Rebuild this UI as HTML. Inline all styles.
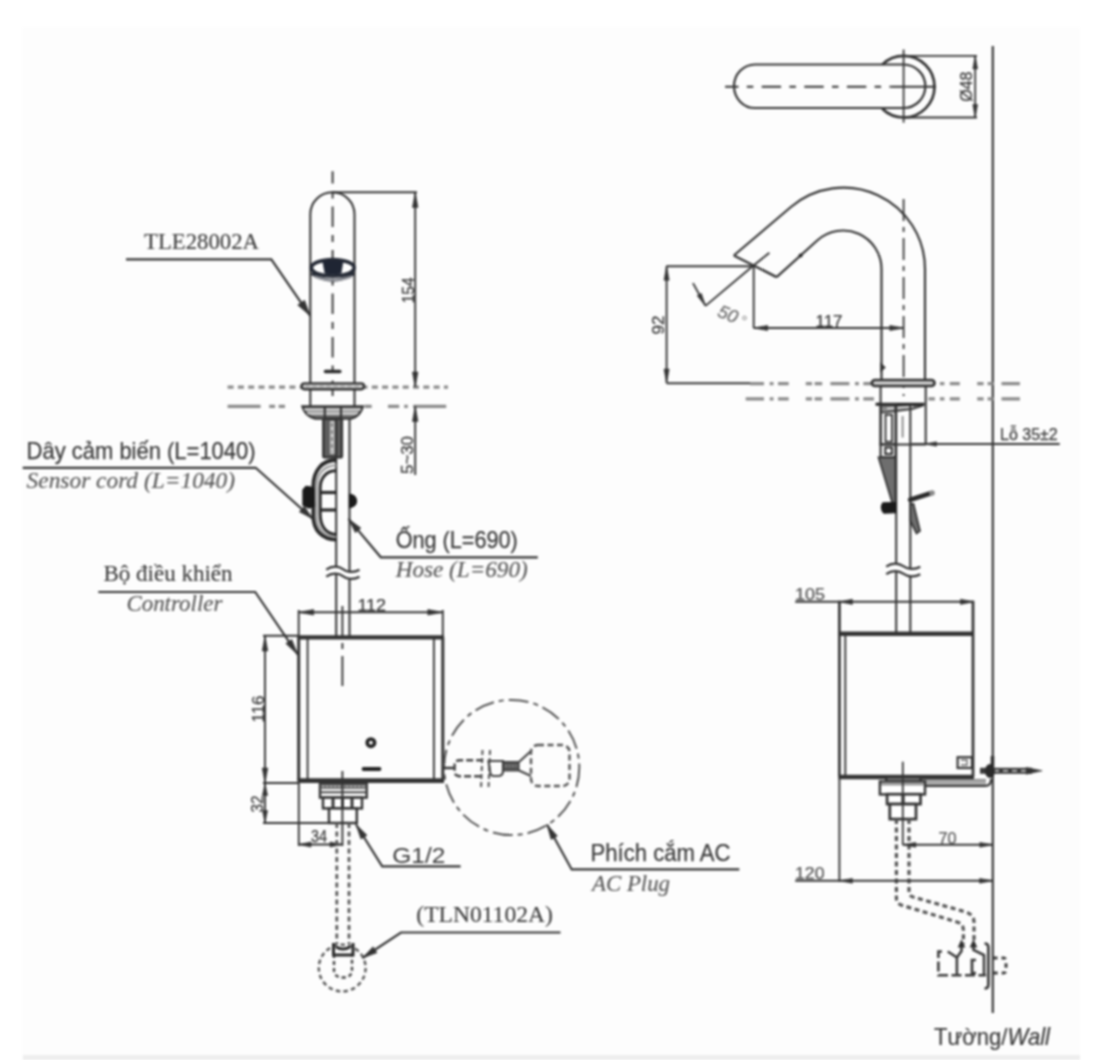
<!DOCTYPE html>
<html><head><meta charset="utf-8"><style>
html,body{margin:0;padding:0;background:#fff;}
body{width:1107px;height:1060px;overflow:hidden;font-family:"Liberation Sans",sans-serif;}
svg{display:block;filter:blur(1px);}
</style></head><body>
<svg width="1107" height="1060" viewBox="0 0 1107 1060">
<rect x="22" y="27" width="1058" height="1033" fill="#fdfdfd"/>
<rect x="23" y="1055" width="1057" height="5" fill="#eeeeee"/>
<line x1="227.6" y1="387.2" x2="448" y2="387.2" stroke="#8a8a8a" stroke-width="3.24" stroke-dasharray="6 4.3" stroke-linecap="butt"/>
<path d="M227.6,406.3 H260.6 M269.2,406.3 H275.1 M278.7,406.3 H285 M364.5,406.3 H371.7 M388,406.3 H399.2 M404.2,406.3 H407.8 M413.2,406.3 H446.2" fill="none" stroke="#8a8a8a" stroke-width="3.24" />
<path d="M310.3,383.5 V214.3 A22.1,22.1 0 0 1 354.5,214.3 V383.5" fill="none" stroke="#333333" stroke-width="2.03" />
<line x1="332.6" y1="171.3" x2="332.6" y2="396" stroke="#333333" stroke-width="1.89" stroke-dasharray="20.5 8 7 8" stroke-dashoffset="8.4" stroke-linecap="butt"/>
<path d="M311.5,273.5 Q333,287 354,273.5" fill="none" stroke="#262b36" stroke-width="2.97" />
<path d="M314,276.5 Q333,284 352,276.5" fill="none" stroke="#9a9ca2" stroke-width="2.16" />
<ellipse cx="332.8" cy="267.8" rx="21.4" ry="8.2" fill="#fff" stroke="#262b36" stroke-width="3.6"/>
<path d="M322.8,261.5 Q333,259.5 343,261.5 L341,273.6 Q333,275 325,273.6 Z" fill="#1f2533" stroke="#1f2533" stroke-width="0.68" />
<line x1="325.5" y1="371.4" x2="339.8" y2="371.4" stroke="#2a2a2a" stroke-width="3.51" stroke-linecap="round"/>
<rect x="301.6" y="383.4" width="62.4" height="5.8" rx="2.9" fill="#d2d2d2" stroke="#333333" stroke-width="2.43"/>
<line x1="305" y1="386.3" x2="361" y2="386.3" stroke="#888" stroke-width="1.08" stroke-dasharray="5 2" stroke-linecap="butt"/>
<line x1="310.3" y1="389.7" x2="310.3" y2="406" stroke="#333333" stroke-width="2.03" stroke-linecap="butt"/>
<line x1="354.5" y1="389.7" x2="354.5" y2="406" stroke="#333333" stroke-width="2.03" stroke-linecap="butt"/>
<path d="M302.5,406.5 L362.7,406.5 Q360.5,416 351.2,418.6 L315.3,418.6 Q305,416 302.5,406.5 Z" fill="#9a9a9a" stroke="#333333" stroke-width="2.43" />
<line x1="304" y1="409.5" x2="361" y2="409.5" stroke="#e0e0e0" stroke-width="1.35" stroke-linecap="butt"/>
<line x1="307" y1="413.5" x2="358" y2="413.5" stroke="#e0e0e0" stroke-width="1.35" stroke-linecap="butt"/>
<line x1="310" y1="416.3" x2="355" y2="416.3" stroke="#444" stroke-width="1.08" stroke-linecap="butt"/>
<line x1="324.8" y1="407" x2="324.8" y2="418.6" stroke="#333333" stroke-width="2.16" stroke-linecap="butt"/>
<line x1="341" y1="407" x2="341" y2="418.6" stroke="#333333" stroke-width="2.16" stroke-linecap="butt"/>
<rect x="323.3" y="418.8" width="18.6" height="38.6" rx="1.5" fill="#5e5e5e" stroke="#333333" stroke-width="2.43"/>
<rect x="330" y="421" width="4.5" height="33" rx="0" fill="#c8c8c8" stroke="#333333" stroke-width="0"/>
<line x1="332" y1="423" x2="332" y2="452" stroke="#444" stroke-width="1.08" stroke-dasharray="4 3" stroke-linecap="butt"/>
<line x1="336.2" y1="418.8" x2="336.2" y2="567" stroke="#333333" stroke-width="2.03" stroke-linecap="butt"/>
<line x1="349.5" y1="418.8" x2="349.5" y2="572.3" stroke="#333333" stroke-width="2.03" stroke-linecap="butt"/>
<line x1="336.2" y1="574" x2="336.2" y2="637" stroke="#333333" stroke-width="2.03" stroke-linecap="butt"/>
<line x1="349.5" y1="579.3" x2="349.5" y2="637" stroke="#333333" stroke-width="2.03" stroke-linecap="butt"/>
<path d="M326.2,569.7 C332.2,565.2 339.2,566.2 342.85,569.2 S353.5,573.2 359.5,569.7" fill="none" stroke="#333333" stroke-width="2.16" />
<path d="M326.2,576.7 C332.2,572.2 339.2,573.2 342.85,576.2 S353.5,580.2 359.5,576.7" fill="none" stroke="#333333" stroke-width="2.16" />
<path d="M336.2,460 C322,460 313.3,471 313.3,486 L313.3,516 C313.3,530 322,539.6 336.2,539.6" fill="none" stroke="#2a2a2a" stroke-width="3.78" />
<path d="M336.2,470.8 C326,470.8 320.2,478 320.2,488 L320.2,514 C320.2,526 326,534.4 336.2,534.4" fill="none" stroke="#2a2a2a" stroke-width="2.97" />
<path d="M336.2,465.4 C324,465.4 316.7,474 316.7,487 L316.7,515 C316.7,528 324,537 336.2,537" fill="none" stroke="#9a9a9a" stroke-width="2.16" />
<line x1="320" y1="492.5" x2="336" y2="492.5" stroke="#2a2a2a" stroke-width="3.24" stroke-linecap="butt"/>
<line x1="320" y1="510" x2="336" y2="510" stroke="#2a2a2a" stroke-width="3.24" stroke-linecap="butt"/>
<path d="M303,490 L306,486.5 L310,487 L314,489 L314.5,506 L309,508 L303,505 Z" fill="#1a1a1a" stroke="#1a1a1a" stroke-width="1.35" />
<path d="M349.5,494.3 A7,6.6 0 0 1 349.5,507.5 Z" fill="#1a1a1a" stroke="#1a1a1a" stroke-width="1.35" />
<path d="M22.7,467.8 H255.7 L313,519" fill="none" stroke="#333333" stroke-width="2.16" />
<polygon points="313,519 299.28,511.84 304.35,506.17" fill="#333333" stroke="#333333" stroke-width="0.6"/>
<path d="M537.8,557.3 H380.8 L348.5,518.9" fill="none" stroke="#333333" stroke-width="2.16" />
<polygon points="348.5,518.9 360.91,528.06 355.4,532.7" fill="#333333" stroke="#333333" stroke-width="0.6"/>
<path d="M126,259.3 H271.3 L310.2,315.8" fill="none" stroke="#333333" stroke-width="2.16" />
<polygon points="310.2,315.8 297.67,305 304.59,300.24" fill="#333333" stroke="#333333" stroke-width="0.6"/>
<line x1="332.6" y1="192.2" x2="417" y2="192.2" stroke="#333333" stroke-width="1.89" stroke-linecap="butt"/>
<line x1="415.2" y1="192" x2="415.2" y2="387" stroke="#333333" stroke-width="1.89" stroke-linecap="butt"/>
<polygon points="415.2,192.5 418,207.5 412.4,207.5" fill="#333333" stroke="#333333" stroke-width="0.6"/>
<polygon points="415.2,387 412.4,372 418,372" fill="#333333" stroke="#333333" stroke-width="0.6"/>
<text x="414.2" y="290.3" font-family="Liberation Sans" font-size="16" font-style="normal" font-weight="normal" fill="#3a3a3a" stroke="#3a3a3a" stroke-width="0.25" text-anchor="middle" transform="rotate(-90 414.2 290.3)" textLength="26" lengthAdjust="spacingAndGlyphs">154</text>
<line x1="415.2" y1="406.3" x2="415.2" y2="475" stroke="#333333" stroke-width="1.89" stroke-linecap="butt"/>
<polygon points="415.2,406.5 418,421.5 412.4,421.5" fill="#333333" stroke="#333333" stroke-width="0.6"/>
<text x="412.5" y="455" font-family="Liberation Sans" font-size="16" font-style="normal" font-weight="normal" fill="#3a3a3a" stroke="#3a3a3a" stroke-width="0.25" text-anchor="middle" transform="rotate(-90 412.5 455)" textLength="38" lengthAdjust="spacingAndGlyphs">5~30</text>
<text x="144" y="249.4" font-family="Liberation Serif" font-size="22.7" font-style="normal" font-weight="normal" fill="#3a3a3a" stroke="#3a3a3a" stroke-width="0.12" text-anchor="start" textLength="115" lengthAdjust="spacingAndGlyphs">TLE28002A</text>
<text x="26.6" y="458.5" font-family="Liberation Sans" font-size="23.6" font-style="normal" font-weight="normal" fill="#3a3a3a" stroke="#3a3a3a" stroke-width="0.25" text-anchor="start" textLength="229" lengthAdjust="spacingAndGlyphs">Dây cảm biến (L=1040)</text>
<text x="26.6" y="488" font-family="Liberation Serif" font-size="23.4" font-style="italic" font-weight="normal" fill="#555555" stroke="#555555" stroke-width="0.12" text-anchor="start" textLength="208.4" lengthAdjust="spacingAndGlyphs">Sensor cord (L=1040)</text>
<text x="395.7" y="548.3" font-family="Liberation Sans" font-size="23.4" font-style="normal" font-weight="normal" fill="#3a3a3a" stroke="#3a3a3a" stroke-width="0.25" text-anchor="start" textLength="122" lengthAdjust="spacingAndGlyphs">Ống (L=690)</text>
<text x="395.7" y="576.6" font-family="Liberation Serif" font-size="23.2" font-style="italic" font-weight="normal" fill="#555555" stroke="#555555" stroke-width="0.12" text-anchor="start" textLength="132" lengthAdjust="spacingAndGlyphs">Hose (L=690)</text>
<text x="103.5" y="581" font-family="Liberation Serif" font-size="22.8" font-style="normal" font-weight="normal" fill="#3a3a3a" stroke="#3a3a3a" stroke-width="0.12" text-anchor="start" textLength="129" lengthAdjust="spacingAndGlyphs">Bộ điều khiển</text>
<text x="126.4" y="610.7" font-family="Liberation Serif" font-size="22.8" font-style="italic" font-weight="normal" fill="#555555" stroke="#555555" stroke-width="0.12" text-anchor="start" textLength="96" lengthAdjust="spacingAndGlyphs">Controller</text>
<path d="M98.3,592 H255.2 L297.8,654.7" fill="none" stroke="#333333" stroke-width="2.16" />
<polygon points="297.8,654.7 285.83,643.49 291.79,639.44" fill="#333333" stroke="#333333" stroke-width="0.6"/>
<line x1="298.7" y1="610" x2="298.7" y2="637" stroke="#333333" stroke-width="1.89" stroke-linecap="butt"/>
<line x1="442.8" y1="610" x2="442.8" y2="637" stroke="#333333" stroke-width="1.89" stroke-linecap="butt"/>
<line x1="298.7" y1="612.3" x2="442.8" y2="612.3" stroke="#333333" stroke-width="1.89" stroke-linecap="butt"/>
<polygon points="298.7,612.3 313.7,609.5 313.7,615.1" fill="#333333" stroke="#333333" stroke-width="0.6"/>
<polygon points="442.8,612.3 427.8,615.1 427.8,609.5" fill="#333333" stroke="#333333" stroke-width="0.6"/>
<text x="371.7" y="610.8" font-family="Liberation Sans" font-size="17" font-style="normal" font-weight="normal" fill="#3a3a3a" stroke="#3a3a3a" stroke-width="0.25" text-anchor="middle" textLength="28.5" lengthAdjust="spacingAndGlyphs">112</text>
<line x1="298.7" y1="637" x2="298.7" y2="781" stroke="#333333" stroke-width="2.97" stroke-linecap="butt"/>
<line x1="307.6" y1="637" x2="307.6" y2="781" stroke="#333333" stroke-width="1.89" stroke-linecap="butt"/>
<line x1="442.8" y1="637" x2="442.8" y2="781" stroke="#333333" stroke-width="2.97" stroke-linecap="butt"/>
<line x1="433.9" y1="637" x2="433.9" y2="781" stroke="#333333" stroke-width="1.89" stroke-linecap="butt"/>
<line x1="297.6" y1="637.3" x2="444" y2="637.3" stroke="#333333" stroke-width="4.32" stroke-linecap="butt"/>
<line x1="297.6" y1="780.6" x2="444" y2="780.6" stroke="#333333" stroke-width="4.59" stroke-linecap="butt"/>
<line x1="342.4" y1="606" x2="342.4" y2="690" stroke="#333333" stroke-width="1.89" stroke-dasharray="30 7 6 7" stroke-linecap="butt"/>
<circle cx="370.9" cy="742.7" r="3.7" fill="#fff" stroke="#222" stroke-width="3.6"/>
<line x1="363.5" y1="769" x2="379.5" y2="769" stroke="#222" stroke-width="3.78" stroke-linecap="round"/>
<line x1="263" y1="635.8" x2="298.7" y2="635.8" stroke="#333333" stroke-width="1.89" stroke-linecap="butt"/>
<line x1="263" y1="783" x2="299" y2="783" stroke="#333333" stroke-width="1.89" stroke-linecap="butt"/>
<line x1="265" y1="635.8" x2="265" y2="783" stroke="#333333" stroke-width="1.89" stroke-linecap="butt"/>
<polygon points="265,636 267.8,651 262.2,651" fill="#333333" stroke="#333333" stroke-width="0.6"/>
<polygon points="265,783 262.2,768 267.8,768" fill="#333333" stroke="#333333" stroke-width="0.6"/>
<text x="263.5" y="709" font-family="Liberation Sans" font-size="17" font-style="normal" font-weight="normal" fill="#3a3a3a" stroke="#3a3a3a" stroke-width="0.25" text-anchor="middle" transform="rotate(-90 263.5 709)" textLength="27" lengthAdjust="spacingAndGlyphs">116</text>
<line x1="265" y1="783" x2="265" y2="823" stroke="#333333" stroke-width="1.89" stroke-linecap="butt"/>
<line x1="263" y1="823" x2="342" y2="823" stroke="#333333" stroke-width="1.89" stroke-linecap="butt"/>
<polygon points="265,783.5 267.6,795.5 262.4,795.5" fill="#333333" stroke="#333333" stroke-width="0.6"/>
<polygon points="265,822.5 262.4,810.5 267.6,810.5" fill="#333333" stroke="#333333" stroke-width="0.6"/>
<text x="262.5" y="804" font-family="Liberation Sans" font-size="17" font-style="normal" font-weight="normal" fill="#3a3a3a" stroke="#3a3a3a" stroke-width="0.25" text-anchor="middle" transform="rotate(-90 262.5 804)" textLength="17" lengthAdjust="spacingAndGlyphs">32</text>
<rect x="320" y="783" width="46.7" height="14.6" rx="0" fill="#fff" stroke="#333333" stroke-width="2.43"/>
<rect x="320.5" y="784" width="45.7" height="5" rx="0" fill="#6a6a6a" stroke="#333333" stroke-width="0"/>
<line x1="322" y1="786.5" x2="365" y2="786.5" stroke="#ddd" stroke-width="1.22" stroke-dasharray="2.5 1.5" stroke-linecap="butt"/>
<line x1="320" y1="792.3" x2="366.7" y2="792.3" stroke="#444" stroke-width="1.89" stroke-linecap="butt"/>
<rect x="323" y="797.6" width="39" height="10.8" rx="0" fill="#fff" stroke="#333333" stroke-width="2.43"/>
<line x1="333" y1="797.6" x2="333" y2="808.4" stroke="#333" stroke-width="2.97" stroke-linecap="butt"/>
<line x1="342.5" y1="797.6" x2="342.5" y2="808.4" stroke="#333" stroke-width="2.97" stroke-linecap="butt"/>
<line x1="352" y1="797.6" x2="352" y2="808.4" stroke="#333" stroke-width="2.97" stroke-linecap="butt"/>
<rect x="329" y="808.4" width="27.8" height="14.6" rx="0" fill="#fff" stroke="#333333" stroke-width="2.43"/>
<line x1="342.4" y1="771" x2="342.4" y2="846" stroke="#333333" stroke-width="1.89" stroke-linecap="butt"/>
<line x1="298.8" y1="783" x2="298.8" y2="846" stroke="#333333" stroke-width="1.89" stroke-linecap="butt"/>
<line x1="298.8" y1="844.5" x2="342.2" y2="844.5" stroke="#333333" stroke-width="1.89" stroke-linecap="butt"/>
<polygon points="299,844.5 311,841.9 311,847.1" fill="#333333" stroke="#333333" stroke-width="0.6"/>
<polygon points="342,844.5 330,847.1 330,841.9" fill="#333333" stroke="#333333" stroke-width="0.6"/>
<text x="319" y="841.6" font-family="Liberation Sans" font-size="17" font-style="normal" font-weight="normal" fill="#3a3a3a" stroke="#3a3a3a" stroke-width="0.25" text-anchor="middle" textLength="16" lengthAdjust="spacingAndGlyphs">34</text>
<line x1="336.8" y1="823" x2="336.8" y2="944" stroke="#555" stroke-width="2.7" stroke-dasharray="5 3.5" stroke-linecap="butt"/>
<line x1="349" y1="823" x2="349" y2="944" stroke="#555" stroke-width="2.7" stroke-dasharray="5 3.5" stroke-linecap="butt"/>
<circle cx="342.2" cy="968" r="23.4" fill="none" stroke="#555" stroke-width="2.4" stroke-dasharray="4.5 3.2"/>
<path d="M334,954 V970 Q334,977.5 343,977.5 Q352,977.5 352,970 V954" fill="none" stroke="#444" stroke-width="2.43" stroke-dasharray="4 3" />
<path d="M333.5,943 V955 H353 V943 M336,947 Q343,951 350,947" fill="none" stroke="#2a2a2a" stroke-width="2.97" />
<path d="M356,824.5 L382.2,866.3 H460.6" fill="none" stroke="#333333" stroke-width="2.16" />
<polygon points="356,824.5 367.02,835.3 360.92,839.12" fill="#333333" stroke="#333333" stroke-width="0.6"/>
<text x="392.3" y="862.5" font-family="Liberation Sans" font-size="22.5" font-style="normal" font-weight="normal" fill="#3a3a3a" text-anchor="start" textLength="53" lengthAdjust="spacingAndGlyphs">G1/2</text>
<path d="M560.5,932.5 H401 L362.5,958" fill="none" stroke="#333333" stroke-width="2.16" />
<polygon points="362.5,958 373.02,946.72 376.99,952.72" fill="#333333" stroke="#333333" stroke-width="0.6"/>
<text x="416.3" y="922.4" font-family="Liberation Serif" font-size="23.4" font-style="normal" font-weight="normal" fill="#3a3a3a" stroke="#3a3a3a" stroke-width="0.12" text-anchor="start" textLength="136.5" lengthAdjust="spacingAndGlyphs">(TLN01102A)</text>
<circle cx="511.7" cy="767.5" r="67.6" fill="none" stroke="#555" stroke-width="2" stroke-dasharray="20 5 5 5"/>
<line x1="442.8" y1="768" x2="455" y2="768" stroke="#333" stroke-width="2.43" stroke-linecap="butt"/>
<path d="M483.2,760.2 H460 Q454.6,760.2 454.6,765 V772 Q454.6,776.2 460,776.2 H483.2" fill="none" stroke="#444" stroke-width="2.43" stroke-dasharray="7 3" />
<line x1="482.5" y1="750" x2="481" y2="789" stroke="#555" stroke-width="2.03" stroke-dasharray="5 3" stroke-linecap="butt"/>
<line x1="490" y1="750" x2="488.5" y2="789" stroke="#555" stroke-width="2.03" stroke-dasharray="5 3" stroke-linecap="butt"/>
<path d="M488.5,761 H503 V771 Q503,776 498,776 H494 Q490,776 490,771 Z" fill="none" stroke="#444" stroke-width="2.16" />
<rect x="503" y="761.6" width="16" height="9.3" rx="0" fill="#555" stroke="#333333" stroke-width="1.08"/>
<line x1="505" y1="766" x2="517" y2="766" stroke="#bbb" stroke-width="1.08" stroke-dasharray="2 1.5" stroke-linecap="butt"/>
<path d="M519,762 L531,751 M519,770.5 L531,776" fill="none" stroke="#444" stroke-width="2.16" />
<rect x="531" y="745" width="38.5" height="41" rx="7" fill="none" stroke="#555" stroke-width="2.43" stroke-dasharray="6 3.5"/>
<path d="M547,824.6 L571.7,869.4 H739.3" fill="none" stroke="#333333" stroke-width="2.16" />
<polygon points="547,824.6 557.39,836 551.09,839.47" fill="#333333" stroke="#333333" stroke-width="0.6"/>
<text x="590.5" y="861.3" font-family="Liberation Sans" font-size="24.2" font-style="normal" font-weight="normal" fill="#3a3a3a" stroke="#3a3a3a" stroke-width="0.25" text-anchor="start" textLength="140" lengthAdjust="spacingAndGlyphs">Phích cắm AC</text>
<text x="592" y="891" font-family="Liberation Serif" font-size="22.8" font-style="italic" font-weight="normal" fill="#555555" stroke="#555555" stroke-width="0.12" text-anchor="start" textLength="78" lengthAdjust="spacingAndGlyphs">AC Plug</text>
<line x1="992.8" y1="46" x2="992.8" y2="1013" stroke="#333333" stroke-width="2.16" stroke-linecap="butt"/>
<path d="M903.6,64.5 H755 A21,21.75 0 0 0 734,86.25 A21,21.75 0 0 0 755,108 H903.6 A21.75,21.75 0 0 0 903.6,64.5" fill="none" stroke="#333333" stroke-width="2.16" />
<path d="M882.25,64.6 A30.8,30.8 0 1 1 882.25,108.8" fill="none" stroke="#333333" stroke-width="2.7" />
<line x1="725.1" y1="86.7" x2="891.7" y2="86.7" stroke="#333333" stroke-width="1.89" stroke-dasharray="19.4 8.3 6.5 8.4" stroke-dashoffset="6.0" stroke-linecap="butt"/>
<line x1="891.7" y1="86.7" x2="936" y2="86.7" stroke="#333333" stroke-width="1.89" stroke-linecap="butt"/>
<line x1="903.6" y1="49.5" x2="903.6" y2="122.7" stroke="#333333" stroke-width="1.76" stroke-linecap="butt"/>
<line x1="903.6" y1="55.9" x2="977" y2="55.9" stroke="#333333" stroke-width="1.76" stroke-linecap="butt"/>
<line x1="903.6" y1="117.5" x2="977" y2="117.5" stroke="#333333" stroke-width="1.76" stroke-linecap="butt"/>
<line x1="975.2" y1="55.9" x2="975.2" y2="117.5" stroke="#333333" stroke-width="1.76" stroke-linecap="butt"/>
<polygon points="975.2,55.9 977.6,68.9 972.8,68.9" fill="#333333" stroke="#333333" stroke-width="0.6"/>
<polygon points="975.2,117.5 972.8,104.5 977.6,104.5" fill="#333333" stroke="#333333" stroke-width="0.6"/>
<text x="972" y="86.7" font-family="Liberation Sans" font-size="16" font-style="normal" font-weight="normal" fill="#3a3a3a" stroke="#3a3a3a" stroke-width="0.25" text-anchor="middle" transform="rotate(-90 972 86.7)">Ø48</text>
<path d="M733.8,255.5 L790.9,207 A81.4,81.4 0 0 1 925,269.1 V380" fill="none" stroke="#333333" stroke-width="2.16" />
<path d="M776.6,277.1 L817.2,240.5 A38.47,38.47 0 0 1 881.5,269 V380" fill="none" stroke="#333333" stroke-width="2.16" />
<line x1="733.8" y1="255.5" x2="776.6" y2="277.1" stroke="#333333" stroke-width="2.43" stroke-linecap="butt"/>
<line x1="753.5" y1="265.5" x2="769.4" y2="252.8" stroke="#333333" stroke-width="1.89" stroke-linecap="butt"/>
<circle cx="800.6" cy="255.6" r="2" fill="#222"/>
<line x1="903.6" y1="199" x2="903.6" y2="396" stroke="#333333" stroke-width="1.76" stroke-dasharray="22 6 5 6" stroke-linecap="butt"/>
<line x1="666.3" y1="266.2" x2="753.5" y2="266.2" stroke="#333333" stroke-width="1.89" stroke-linecap="butt"/>
<line x1="666.6" y1="266.2" x2="666.6" y2="383.1" stroke="#333333" stroke-width="1.89" stroke-linecap="butt"/>
<polygon points="666.6,266.2 669.2,280.2 664,280.2" fill="#333333" stroke="#333333" stroke-width="0.6"/>
<polygon points="666.6,383.1 664,369.1 669.2,369.1" fill="#333333" stroke="#333333" stroke-width="0.6"/>
<line x1="666.6" y1="383.3" x2="752" y2="383.3" stroke="#333333" stroke-width="1.89" stroke-linecap="butt"/>
<text x="664" y="325" font-family="Liberation Sans" font-size="17" font-style="normal" font-weight="normal" fill="#3a3a3a" stroke="#3a3a3a" stroke-width="0.25" text-anchor="middle" transform="rotate(-90 664 325)">92</text>
<line x1="753.7" y1="266" x2="753.7" y2="328.1" stroke="#333333" stroke-width="1.89" stroke-linecap="butt"/>
<line x1="753.7" y1="328" x2="903.8" y2="328" stroke="#333333" stroke-width="1.89" stroke-linecap="butt"/>
<polygon points="753.7,328 767.7,325.4 767.7,330.6" fill="#333333" stroke="#333333" stroke-width="0.6"/>
<polygon points="903.8,328 889.8,330.6 889.8,325.4" fill="#333333" stroke="#333333" stroke-width="0.6"/>
<text x="829" y="327.3" font-family="Liberation Sans" font-size="17" font-style="normal" font-weight="normal" fill="#3a3a3a" stroke="#3a3a3a" stroke-width="0.25" text-anchor="middle" textLength="27" lengthAdjust="spacingAndGlyphs">117</text>
<line x1="753.5" y1="265.5" x2="705.5" y2="305.9" stroke="#333333" stroke-width="1.89" stroke-linecap="butt"/>
<line x1="705.5" y1="305.9" x2="693" y2="283.1" stroke="#333333" stroke-width="1.89" stroke-linecap="butt"/>
<polygon points="705.5,305.9 697.15,295.65 701.35,293.35" fill="#333333" stroke="#333333" stroke-width="0.6"/>
<text x="716.5" y="316" font-family="Liberation Sans" font-size="18" font-style="italic" font-weight="normal" fill="#666" stroke="#666" stroke-width="0.25" text-anchor="start" transform="rotate(22 716.5 316)">50</text>
<circle cx="744.5" cy="318" r="1.8" fill="none" stroke="#888" stroke-width="1"/>
<path d="M750,383.6 H764 M769.7,383.6 H773.5 M778,383.6 H788.7 M805.8,383.6 H812 M814.6,383.6 H822.2 M830.4,383.6 H849.4 M855,383.6 H858.9 M863.3,383.6 H871.5 M939.9,383.6 H944.4 M949.8,383.6 H959.8 M977.2,383.6 H983.6 M987.6,383.6 H993.6 M1001.5,383.6 H1019.9" fill="none" stroke="#8a8a8a" stroke-width="3.24" />
<path d="M745.7,398.8 H764 M769.7,398.8 H773.5 M778,398.8 H788.7 M805.8,398.8 H812 M814.6,398.8 H822.2 M830.4,398.8 H849.4 M855,398.8 H858.9 M863.3,398.8 H874 M928.4,398.8 H934.9 M939.9,398.8 H944.4 M949.8,398.8 H959.8 M977.2,398.8 H983.6 M987.6,398.8 H993.6 M1001.5,398.8 H1019.9" fill="none" stroke="#8a8a8a" stroke-width="3.24" />
<rect x="871.9" y="380" width="62.6" height="6" rx="3" fill="#cfcfcf" stroke="#333333" stroke-width="2.7"/>
<line x1="880.6" y1="386" x2="880.6" y2="444.6" stroke="#333333" stroke-width="2.03" stroke-linecap="butt"/>
<line x1="925.7" y1="386" x2="925.7" y2="444.6" stroke="#333333" stroke-width="2.03" stroke-linecap="butt"/>
<line x1="880" y1="444.6" x2="926" y2="444.6" stroke="#333333" stroke-width="2.03" stroke-linecap="butt"/>
<line x1="875.6" y1="404.2" x2="924.5" y2="404.2" stroke="#222" stroke-width="2.97" stroke-linecap="butt"/>
<polygon points="880.6,405.5 923.5,405.5 913,409 886,412.5 880.6,412.5" fill="#8a8a8a" stroke="#333333" stroke-width="1.35" stroke-linejoin="miter"/>
<line x1="887" y1="408.5" x2="913" y2="406.5" stroke="#e6e6e6" stroke-width="1.35" stroke-linecap="butt"/>
<rect x="880.6" y="404.5" width="14.9" height="40.1" rx="0" fill="none" stroke="#333333" stroke-width="2.16"/>
<rect x="885.5" y="414.8" width="6.5" height="26.9" rx="0" fill="#fff" stroke="#333333" stroke-width="1.89"/>
<rect x="880.6" y="444.6" width="14.9" height="12.7" rx="0" fill="#fff" stroke="#333333" stroke-width="2.16"/>
<rect x="885.3" y="447.5" width="6.6" height="6.5" rx="0" fill="#fff" stroke="#333333" stroke-width="2.16"/>
<line x1="902.6" y1="416" x2="902.6" y2="437.5" stroke="#777" stroke-width="1.62" stroke-linecap="butt"/>
<line x1="896.2" y1="404.5" x2="896.2" y2="564" stroke="#333333" stroke-width="2.03" stroke-linecap="butt"/>
<line x1="910.3" y1="404.5" x2="910.3" y2="569" stroke="#333333" stroke-width="2.03" stroke-linecap="butt"/>
<line x1="896.2" y1="571.5" x2="896.2" y2="633.6" stroke="#333333" stroke-width="2.03" stroke-linecap="butt"/>
<line x1="910.3" y1="576.5" x2="910.3" y2="633.6" stroke="#333333" stroke-width="2.03" stroke-linecap="butt"/>
<path d="M886.2,566.7 C892.2,562.2 899.2,563.2 903.25,566.2 S914.3,570.2 920.3,566.7" fill="none" stroke="#333333" stroke-width="2.16" />
<path d="M886.2,574.2 C892.2,569.7 899.2,570.7 903.25,573.7 S914.3,577.7 920.3,574.2" fill="none" stroke="#333333" stroke-width="2.16" />
<polygon points="878.5,457.3 895.5,457.3 895.5,505 893,505" fill="#6e6e6e" stroke="#333333" stroke-width="1.76" stroke-linejoin="miter"/>
<polygon points="910.3,504 913.5,504 920,531 916.5,533.5 910.3,521" fill="#6e6e6e" stroke="#333333" stroke-width="1.76" stroke-linejoin="miter"/>
<path d="M883,503 L895.5,502.6 L895.5,512.6 L884,513 Q879.5,508 883,503 Z" fill="#1a1a1a" stroke="#1a1a1a" stroke-width="1.35" />
<line x1="910.3" y1="499.8" x2="930" y2="493.5" stroke="#2a2a2a" stroke-width="4.86" stroke-linecap="round"/>
<circle cx="932" cy="493" r="2.8" fill="#8a8a8a"/>
<polygon points="880.8,363.5 885,367.4 880.8,371.3" fill="#333333" stroke="#333333" stroke-width="1.08" stroke-linejoin="miter"/>
<line x1="911.6" y1="444" x2="1059.7" y2="444" stroke="#333333" stroke-width="1.89" stroke-linecap="butt"/>
<polygon points="925.5,444 936.5,441.8 936.5,446.2" fill="#333333" stroke="#333333" stroke-width="0.6"/>
<text x="1000" y="440" font-family="Liberation Sans" font-size="16" font-style="normal" font-weight="normal" fill="#3a3a3a" stroke="#3a3a3a" stroke-width="0.25" text-anchor="start" textLength="57.7" lengthAdjust="spacingAndGlyphs">Lỗ 35±2</text>
<line x1="839.4" y1="600.7" x2="839.4" y2="776.5" stroke="#333333" stroke-width="2.7" stroke-linecap="butt"/>
<line x1="845.3" y1="633.6" x2="845.3" y2="776.5" stroke="#333333" stroke-width="1.89" stroke-linecap="butt"/>
<line x1="973" y1="600.7" x2="973" y2="777" stroke="#333333" stroke-width="2.7" stroke-linecap="butt"/>
<line x1="838.5" y1="633.8" x2="974" y2="633.8" stroke="#333333" stroke-width="4.59" stroke-linecap="butt"/>
<line x1="838.5" y1="777" x2="974" y2="777" stroke="#333333" stroke-width="4.59" stroke-linecap="butt"/>
<line x1="795.2" y1="601.8" x2="973.5" y2="601.8" stroke="#333333" stroke-width="1.89" stroke-linecap="butt"/>
<polygon points="839.4,601.8 852.4,599.2 852.4,604.4" fill="#333333" stroke="#333333" stroke-width="0.6"/>
<polygon points="973.5,601.8 960.5,604.4 960.5,599.2" fill="#333333" stroke="#333333" stroke-width="0.6"/>
<text x="795" y="600" font-family="Liberation Sans" font-size="17" font-style="normal" font-weight="normal" fill="#555" stroke="#555" stroke-width="0.25" text-anchor="start" textLength="30" lengthAdjust="spacingAndGlyphs">105</text>
<rect x="957.6" y="757.2" width="14.4" height="10.8" rx="0" fill="none" stroke="#333333" stroke-width="2.16"/>
<path d="M961,760 L967,760 L967,765 L961,765" fill="none" stroke="#666" stroke-width="1.35" />
<rect x="920" y="779.5" width="66" height="6" rx="0" fill="#a8a8a8" stroke="#333333" stroke-width="0"/>
<path d="M920,786 H985 Q991,786 991,779" fill="none" stroke="#333333" stroke-width="2.16" />
<line x1="920" y1="779.5" x2="986" y2="779.5" stroke="#777" stroke-width="1.08" stroke-linecap="butt"/>
<rect x="980" y="767.8" width="52" height="6" rx="0" fill="#3a3a3a" stroke="#333333" stroke-width="0"/>
<line x1="994" y1="770.8" x2="1030" y2="770.8" stroke="#ddd" stroke-width="1.62" stroke-dasharray="5 4" stroke-linecap="butt"/>
<polygon points="1042.2,770.8 1026.2,774.2 1026.2,767.4" fill="#333" stroke="#333" stroke-width="0.6"/>
<ellipse cx="990" cy="771" rx="5" ry="7" fill="#2a2a2a"/>
<line x1="992.5" y1="756" x2="992.5" y2="767" stroke="#2a2a2a" stroke-width="3.51" stroke-linecap="butt"/>
<rect x="886.2" y="777" width="34.3" height="6" rx="0" fill="#777" stroke="#333333" stroke-width="2.43"/>
<rect x="879.9" y="781.5" width="45.1" height="12.9" rx="0" fill="#fff" stroke="#333333" stroke-width="2.43"/>
<rect x="881" y="782.5" width="43" height="3" rx="0" fill="#9a9a9a" stroke="#333333" stroke-width="0"/>
<rect x="887.1" y="794.2" width="33.4" height="9.9" rx="0" fill="#fff" stroke="#333333" stroke-width="2.7"/>
<line x1="903" y1="794.2" x2="903" y2="804.1" stroke="#333333" stroke-width="3.24" stroke-linecap="butt"/>
<rect x="889.8" y="804.1" width="26.2" height="15" rx="0" fill="#fff" stroke="#333333" stroke-width="2.7"/>
<line x1="902.8" y1="761.7" x2="902.8" y2="844.8" stroke="#333333" stroke-width="1.76" stroke-linecap="butt"/>
<path d="M896.4,819 V898 Q896.4,903 901,905 L957,922 Q963.4,924 963.4,930 V944" fill="none" stroke="#555" stroke-width="3.24" stroke-dasharray="5 3.5" />
<path d="M909,819 V892 Q909,896 913,897 L966,912 Q974,915 974,922 V944" fill="none" stroke="#555" stroke-width="3.24" stroke-dasharray="5 3.5" />
<line x1="902.8" y1="844.8" x2="992.8" y2="844.8" stroke="#333333" stroke-width="1.89" stroke-linecap="butt"/>
<polygon points="902.8,844.8 915.8,842.4 915.8,847.2" fill="#333333" stroke="#333333" stroke-width="0.6"/>
<polygon points="992.8,844.8 979.8,847.2 979.8,842.4" fill="#333333" stroke="#333333" stroke-width="0.6"/>
<text x="947.5" y="843.5" font-family="Liberation Sans" font-size="17" font-style="normal" font-weight="normal" fill="#555" stroke="#555" stroke-width="0.25" text-anchor="middle" textLength="18" lengthAdjust="spacingAndGlyphs">70</text>
<line x1="839.4" y1="776.5" x2="839.4" y2="882" stroke="#333333" stroke-width="1.89" stroke-linecap="butt"/>
<line x1="795.2" y1="880.8" x2="992.6" y2="880.8" stroke="#333333" stroke-width="1.89" stroke-linecap="butt"/>
<polygon points="839.4,880.8 852.4,878.4 852.4,883.2" fill="#333333" stroke="#333333" stroke-width="0.6"/>
<polygon points="992.6,880.8 979.6,883.2 979.6,878.4" fill="#333333" stroke="#333333" stroke-width="0.6"/>
<text x="795" y="879" font-family="Liberation Sans" font-size="17" font-style="normal" font-weight="normal" fill="#555" stroke="#555" stroke-width="0.25" text-anchor="start" textLength="29.5" lengthAdjust="spacingAndGlyphs">120</text>
<path d="M942,951.5 H938.4 V975.3 H986" fill="none" stroke="#3a3a3a" stroke-width="2.56" stroke-dasharray="10 3.5" />
<path d="M947.7,951.5 L956.9,957.5 V975.3" fill="none" stroke="#3a3a3a" stroke-width="2.56" />
<path d="M956.9,957.5 L961.5,951 V943" fill="none" stroke="#3a3a3a" stroke-width="2.56" />
<path d="M973.5,943 V950 L984,955 V976" fill="none" stroke="#3a3a3a" stroke-width="2.56" />
<polygon points="958.5,947 961.5,940.5 964.5,947" fill="#2a2a2a" stroke="#333333" stroke-width="1.08" stroke-linejoin="miter"/>
<polygon points="970.5,947 973.5,940.5 976.5,947" fill="#2a2a2a" stroke="#333333" stroke-width="1.08" stroke-linejoin="miter"/>
<path d="M976,960 H972 V973 H976" fill="none" stroke="#3a3a3a" stroke-width="2.7" />
<path d="M984.5,943.5 Q988.4,943.5 988.4,947.5 V984.5 Q988.4,988.5 984.5,988.5" fill="none" stroke="#3a3a3a" stroke-width="2.7" />
<path d="M993,958 H1003.5 Q1006,958 1006,961 V970 Q1006,973 1003.5,973 H993" fill="none" stroke="#3a3a3a" stroke-width="2.97" stroke-dasharray="4.5 4" />
<text x="934" y="1045.4" font-family="Liberation Sans" font-size="23.8" fill="#3a3a3a" stroke="#3a3a3a" stroke-width="0.2" textLength="116" lengthAdjust="spacingAndGlyphs">Tường/<tspan font-style="italic">Wall</tspan></text>
</svg>
</body></html>
